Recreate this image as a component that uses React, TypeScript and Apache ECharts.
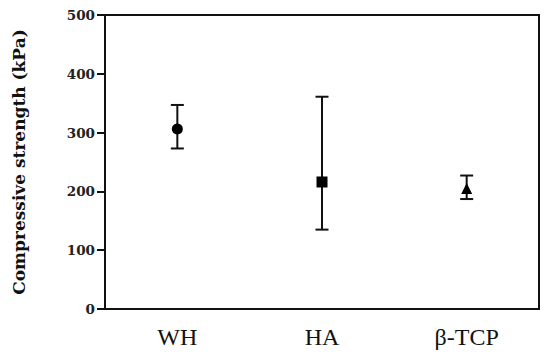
import React, { useEffect, useRef } from "react";
import * as echarts from "echarts";

const categories = ["WH", "HA", "β-TCP"];
const means = [306, 216, 205];
const lowers = [273, 135, 187];
const uppers = [347, 361, 227];
const symbols = ["circle", "rect", "triangle"];
const yTicks = { min: 0, max: 500, interval: 100 };

export default function App() {
  const ref = useRef<HTMLDivElement>(null);
  useEffect(() => {
    if (!ref.current) return;
    const chart = echarts.init(ref.current, null, { renderer: "svg" });
    const errData = categories.map((c, i) => [i, lowers[i], uppers[i]]);
    chart.setOption({
      animation: false,
      grid: {
        left: 105,
        right: 11,
        top: 15,
        bottom: 47,
        show: true,
        borderColor: "#111",
        borderWidth: 2,
      },
      xAxis: {
        type: "category",
        data: categories,
        boundaryGap: true,
        axisLine: { lineStyle: { color: "#111", width: 2 } },
        axisTick: { alignWithLabel: true, length: 5, lineStyle: { color: "#111", width: 2 } },
        axisLabel: {
          fontFamily: "Liberation Serif",
          fontSize: 24,
          color: "#111",
          margin: 16,
        },
        splitLine: { show: false },
      },
      yAxis: {
        type: "value",
        min: yTicks.min,
        max: yTicks.max,
        interval: yTicks.interval,
        name: "Compressive strength (kPa)",
        nameLocation: "middle",
        nameGap: 78,
        nameTextStyle: {
          fontFamily: "DejaVu Serif",
          fontWeight: "bold",
          fontSize: 17,
          color: "#111",
        },
        axisLine: { show: true, lineStyle: { color: "#111", width: 2 } },
        axisTick: { show: true, length: 8, lineStyle: { color: "#111", width: 2 } },
        axisLabel: {
          fontFamily: "DejaVu Serif",
          fontWeight: "bold",
          fontSize: 13.5,
          color: "#222",
          margin: 10,
        },
        splitLine: { show: false },
      },
      series: [
        {
          type: "custom",
          data: errData,
          z: 2,
          renderItem: (params: any, api: any) => {
            const x = api.value(0);
            const lo = api.coord([x, api.value(1)]);
            const hi = api.coord([x, api.value(2)]);
            const hw = 6.5;
            const style = { stroke: "#111", lineWidth: 2 };
            return {
              type: "group",
              children: [
                { type: "line", shape: { x1: lo[0], y1: lo[1], x2: hi[0], y2: hi[1] }, style },
                { type: "line", shape: { x1: lo[0] - hw, y1: lo[1], x2: lo[0] + hw, y2: lo[1] }, style },
                { type: "line", shape: { x1: hi[0] - hw, y1: hi[1], x2: hi[0] + hw, y2: hi[1] }, style },
              ],
            };
          },
        },
        {
          type: "scatter",
          z: 3,
          data: categories.map((c, i) => ({
            value: [i, means[i]],
            symbol: symbols[i],
            symbolSize: 11,
          })),
          itemStyle: { color: "#000", opacity: 1 },
        },
      ],
    });
    return () => chart.dispose();
  }, []);
  return <div ref={ref} style={{ width: 550, height: 356, position: "absolute", left: 0, top: 0 }} />;
}
